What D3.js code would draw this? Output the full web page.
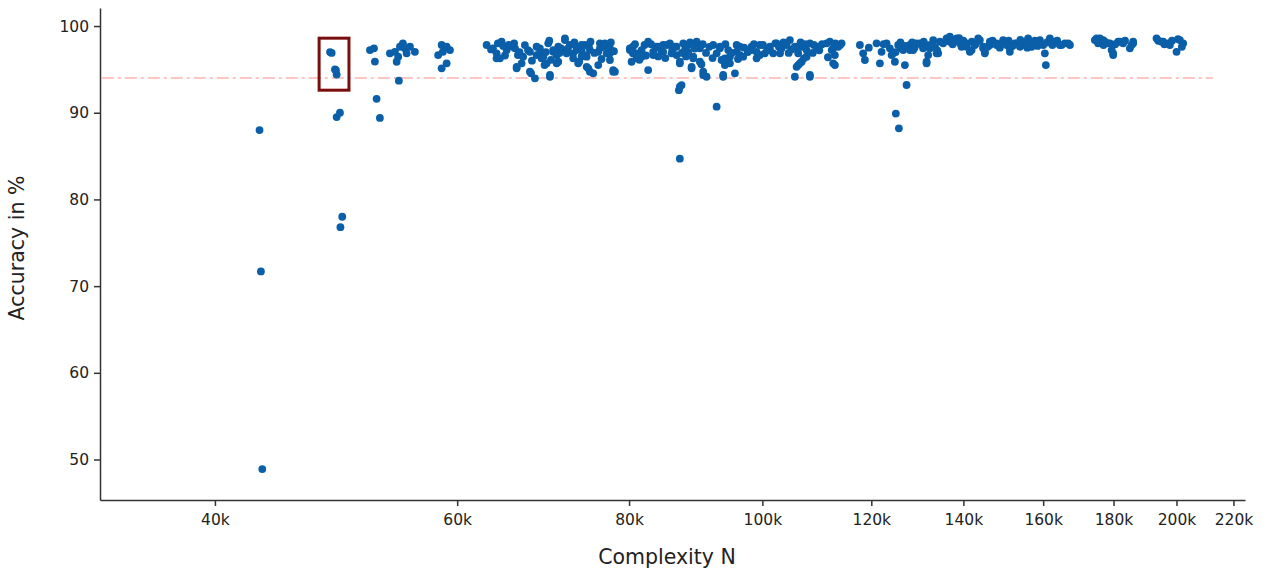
<!DOCTYPE html>
<html>
<head>
<meta charset="utf-8">
<script src="https://cdn.jsdelivr.net/npm/d3@7"></script>
<style>
  html, body { margin: 0; padding: 0; background: #ffffff; }
  svg { display: block; }
  text { font-family: "DejaVu Sans", Verdana, sans-serif; fill: #222; }
</style>
</head>
<body>
<svg id="chart" width="1268" height="573"></svg>
<script>
// Complexity N (in thousands) and accuracy (%) for each point
const complexityK = [
  43.1, 43.2, 43.3,
  48.63, 48.5, 48.98, 49.04, 48.9, 49.04, 49.31, 49.50, 49.35,
  51.85, 52.20, 52.28, 52.43, 52.72, 53.61, 54.06, 54.22, 54.36, 54.42, 54.52, 54.79, 54.97, 55.13, 55.44, 55.90,
  58.12, 58.46, 58.58, 58.95, 59.28, 58.95, 58.46,
  63.03, 63.70, 64.09, 64.23, 64.63, 64.45, 64.09, 65.18, 65.87, 65.4, 66.1, 66.42, 66.28, 66.28, 66.83, 67.0, 67.55, 67.77, 67.77, 67.9,
  68.34, 68.53, 68.53, 68.91, 68.91, 69.1, 69.30, 69.45, 69.88, 69.69, 70.08, 70.08, 70.46, 70.46, 70.87, 71.06, 70.87, 71.06, 71.4,
  71.86, 71.86, 72.06, 72.06, 72.46, 72.86, 72.86, 73.28, 73.28, 73.47, 73.6, 73.89, 73.89, 74.30, 74.30, 74.52, 74.52, 74.72, 74.93, 74.93,
  75.34, 75.98, 75.98, 76.19, 76.19, 76.61, 76.83, 77.05, 77.22, 77.48, 77.48, 77.91, 77.91, 78.13, 76.83, 77.48,
  63.5, 65.0, 66.0, 67.2, 68.0, 69.6, 70.2, 71.2, 72.2, 73.0, 73.9, 74.8, 75.5, 76.4, 77.6, 78.0, 75.0, 70.0, 66.6, 64.8,
  80.11, 80.11, 80.34, 80.52, 80.52, 81.02, 81.02, 81.70, 81.70, 82.1, 82.60, 82.60, 83.30, 83.30, 83.7, 84.0, 84.4, 84.70, 84.70, 85.19,
  85.90, 85.66, 86.3, 86.62, 86.62, 87.10, 87.10, 87.35, 86.96, 87.10, 87.10, 87.6, 87.84, 87.84, 88.32, 88.32, 88.83, 88.83, 89.07, 89.07,
  89.58, 89.58, 90.07, 90.07, 90.3, 90.57, 90.57, 91.08, 92.10, 92.63, 92.63, 93.14, 93.14, 93.40, 93.65, 93.65, 93.92, 93.92, 94.44,
  94.71, 94.71, 95.51, 95.78, 95.78, 96.31, 96.31, 96.84, 98.21, 98.21, 99.04, 99.04, 99.58, 99.58, 100.42, 100.1, 101.27, 101.27, 101.83,
  102.41, 102.2, 103.27, 103.0, 104.14, 104.71, 105.59, 105.59, 105.90, 106.18, 106.18, 106.18, 106.48, 106.8, 107.07, 107.2, 107.68, 107.68,
  108.28, 108.28, 108.28, 109.50, 109.0, 111.35, 111.96, 112.3, 112.58, 112.58, 112.91, 112.9, 113.53, 113.9, 114.18,
  80.8, 81.4, 82.3, 83.0, 84.0, 85.0, 86.0, 87.4, 88.0, 88.6, 89.3, 90.5, 91.0, 91.5, 92.0, 94.0, 95.0, 96.0, 97.0, 97.6, 98.6,
  100.8, 102.8, 103.6, 104.5, 105.0, 106.6, 107.4, 108.8, 110.0, 110.5, 111.6, 113.0,
  117.73, 118.38, 118.72, 121.06, 121.74, 122.08, 123.11, 123.79, 124.15, 124.47, 124.83, 125.03, 125.52, 125.67, 126.24, 126.58, 126.94,
  127.30, 128.01, 128.01, 128.71, 129.45, 130.16, 130.54, 130.88, 131.63, 131.63, 131.98, 132.37, 132.74, 133.10, 133.86, 134.21, 134.60,
  119.5, 122.5, 125.0, 126.0, 127.0, 128.5, 129.0, 131.0, 132.0, 133.5, 134.0,
  135.34, 136.11, 136.86, 136.86, 138.02, 138.42, 139.18, 139.57, 140.75, 140.75, 141.52, 141.94, 142.72, 143.51, 143.91, 144.72, 144.72,
  145.12, 145.12, 146.34, 146.34, 148.00, 148.00, 149.63, 149.63, 150.49, 151.32, 151.32, 152.59, 153.04, 153.88, 154.73, 155.16, 156.02,
  156.47, 156.93, 157.34, 159.12, 159.12, 160.0, 160.45, 160.72, 161.80, 161.80, 163.17, 164.53, 165.92, 166.84, 167.32,
  137.5, 139.0, 140.0, 142.0, 143.0, 145.8, 147.0, 148.8, 150.0, 151.0, 152.0, 154.0, 155.8, 157.8, 158.5, 161.0, 162.5, 163.8, 165.0,
  174.46, 174.97, 175.93, 176.90, 177.40, 178.40, 178.90, 179.42, 179.88, 179.88, 181.40, 181.91, 182.91, 184.99, 186.01, 186.01,
  175.4, 177.0, 180.5, 183.5, 185.5,
  193.43, 195.06, 195.59, 197.24, 197.79, 200.02, 201.14, 202.25, 200.5,
  194.0, 196.0, 198.5, 201.8
];
const accuracy = [
  88.0, 71.7, 48.9,
  96.9, 97.0, 94.9, 94.4, 95.0, 89.5, 90.0, 78.0, 76.8,
  97.23, 97.43, 95.9, 91.6, 89.4, 96.85, 97.03, 95.88, 96.46, 93.7, 97.61, 98.0, 97.43, 96.85, 97.61, 97.03,
  96.65, 97.81, 97.03, 97.61, 97.23, 95.70, 95.12,
  97.81, 97.43, 96.85, 98.0, 98.19, 96.27, 96.27, 97.23, 97.61, 97.81, 97.43, 96.65, 95.12, 95.3, 95.70, 96.46, 97.23, 97.03, 94.73, 94.54,
  93.97, 96.65, 97.61, 97.43, 96.85, 96.27, 96.46, 95.5, 98.0, 95.70, 94.35, 94.15, 97.03, 97.23, 96.65, 97.61, 95.70, 95.88, 97.43,
  98.38, 98.58, 97.03, 96.85, 97.81, 96.85, 96.27, 97.61, 97.23, 95.70, 95.9, 97.23, 97.81, 97.81, 96.65, 96.46, 95.3, 95.12, 97.23, 94.73,
  94.54, 97.03, 95.5, 98.0, 97.43, 97.61, 97.81, 96.85, 97.81, 96.08, 97.43, 94.92, 94.73, 94.73, 98.0, 96.85,
  97.3, 96.6, 98.0, 97.8, 96.0, 97.0, 96.1, 96.9, 97.4, 98.1, 96.5, 97.6, 96.9, 96.2, 98.1, 97.1, 98.2, 98.3, 97.0, 97.7,
  97.23, 97.43, 95.88, 97.61, 96.85, 96.85, 96.27, 96.46, 97.23, 97.81, 98.19, 94.92, 96.65, 97.03, 97.61, 97.61, 97.23, 97.03, 97.81, 97.81,
  96.85, 98.0, 97.61, 96.65, 97.61, 95.70, 95.88, 93.19, 92.6, 84.7, 93.0, 98.0, 97.81, 97.23, 97.81, 97.03, 95.3, 95.12, 96.46, 96.27,
  98.0, 98.19, 97.43, 95.88, 95.6, 94.73, 94.35, 94.15, 97.81, 96.85, 90.7, 97.61, 97.43, 96.08, 94.15, 94.35, 95.5, 96.27, 97.23,
  96.46, 95.70, 94.54, 97.03, 97.81, 97.61, 96.65, 96.46, 97.23, 97.61, 96.27, 97.03, 97.81, 96.65, 96.85, 97.81, 97.61, 97.23, 96.85,
  98.0, 98.0, 97.43, 96.85, 97.81, 98.38, 97.61, 94.15, 95.3, 96.85, 97.43, 95.5, 95.70, 95.88, 97.61, 96.27, 96.46, 97.23,
  94.15, 98.0, 94.35, 97.61, 97.81, 98.0, 98.19, 97.23, 97.43, 95.70, 95.5, 96.65, 97.61, 97.81, 98.0,
  97.9, 96.1, 96.6, 97.9, 96.5, 96.3, 97.3, 96.9, 96.5, 98.1, 97.4, 97.9, 96.9, 97.6, 96.3, 97.9, 96.9, 96.2, 97.5, 97.0, 97.9,
  97.2, 97.6, 98.1, 96.9, 97.3, 98.1, 97.9, 96.9, 97.2, 97.9, 96.4, 98.0,
  97.81, 96.85, 96.08, 98.0, 95.70, 97.03, 98.0, 97.43, 96.65, 96.85, 95.88, 89.9, 97.81, 88.2, 97.43, 97.23, 95.5,
  93.2, 97.81, 97.23, 97.23, 98.0, 98.0, 97.81, 97.43, 95.88, 95.70, 96.65, 97.43, 97.81, 98.38, 96.85, 96.85, 98.19,
  97.5, 97.9, 97.0, 98.1, 97.7, 98.1, 97.5, 98.2, 97.8, 97.6, 97.2,
  98.0, 98.58, 98.77, 98.19, 98.38, 98.58, 98.0, 97.61, 98.0, 97.61, 97.03, 97.23, 97.81, 98.58, 98.38, 97.61, 97.43,
  97.03, 96.85, 98.19, 97.81, 98.0, 97.81, 98.38, 98.19, 97.81, 97.43, 97.03, 98.0, 98.0, 97.61, 97.81, 98.19, 98.58,
  98.19, 97.61, 97.81, 98.38, 98.0, 97.81, 96.85, 95.5, 98.58, 98.38, 98.19, 97.81, 98.0, 98.0, 97.81,
  97.9, 98.6, 98.3, 98.2, 98.0, 97.6, 98.3, 97.5, 98.0, 98.3, 97.7, 98.4, 97.5, 98.3, 97.7, 98.1, 97.8, 98.3, 97.8,
  98.38, 98.58, 98.58, 98.38, 98.19, 98.0, 98.0, 97.23, 96.65, 96.85, 98.19, 98.19, 98.0, 97.43, 98.0, 98.19,
  98.0, 97.8, 97.9, 98.3, 97.8,
  98.58, 98.19, 98.19, 98.0, 97.81, 97.03, 98.38, 98.0, 98.5,
  98.3, 97.9, 98.3, 97.6
];
const xTicksK = [40, 60, 80, 100, 120, 140, 160, 180, 200, 220];
const yTicks = [50, 60, 70, 80, 90, 100];
const thresholdAcc = [94];
// highlighted region: [N min (k), N max (k), accuracy min, accuracy max]
const highlightBox = [47.62, 50.06, 92.6, 98.6];

const svg = d3.select("#chart");
const x = d3.scaleLog().domain([33.0, 224.3]).range([100, 1245]);
const y = d3.scaleLinear().domain([45.33, 102.08]).range([500, 8]);

const axisColor = "#333";

// threshold line
svg.selectAll("line.thr").data(thresholdAcc).enter().append("line")
  .attr("class", "thr")
  .attr("x1", x(33.1)).attr("x2", x(212.5))
  .attr("y1", d => y(d)).attr("y2", d => y(d))
  .attr("stroke", "#ffb3b0").attr("stroke-width", 1.5)
  .attr("stroke-dasharray", "12,4,3,4");

// points
const pts = complexityK.map((n, i) => ({ n, a: accuracy[i] }));
svg.append("g").selectAll("circle").data(pts).enter().append("circle")
  .attr("cx", d => x(d.n)).attr("cy", d => y(d.a))
  .attr("r", 3.9).attr("fill", "#0a5fa8");

// highlight box
svg.append("rect")
  .attr("x", x(highlightBox[0])).attr("y", y(highlightBox[3]))
  .attr("width", x(highlightBox[1]) - x(highlightBox[0]))
  .attr("height", y(highlightBox[2]) - y(highlightBox[3]))
  .attr("fill", "none").attr("stroke", "#7a0d0d").attr("stroke-width", 3);

// x axis
const gx = svg.append("g").attr("transform", "translate(0,500)")
  .call(d3.axisBottom(x).tickValues(xTicksK).tickFormat(d => d + "k").tickSize(6).tickSizeOuter(0).tickPadding(8));
// y axis
const gy = svg.append("g").attr("transform", "translate(100,0)")
  .call(d3.axisLeft(y).tickValues(yTicks).tickSize(6).tickSizeOuter(0).tickPadding(5));

[gx, gy].forEach(g => {
  g.select(".domain").attr("stroke", axisColor).attr("stroke-width", 1.5);
  g.selectAll(".tick line").attr("stroke", axisColor).attr("stroke-width", 1.5);
  g.selectAll(".tick text").attr("font-family", "DejaVu Sans, Verdana, sans-serif")
    .attr("font-size", 15.5).attr("fill", "#222");
});

// axis titles
svg.append("text").attr("x", 667).attr("y", 564).attr("text-anchor", "middle")
  .attr("font-size", 20.5).text("Complexity N");
svg.append("text").attr("transform", "translate(24,248) rotate(-90)").attr("text-anchor", "middle")
  .attr("font-size", 20.5).text("Accuracy in %");
</script>
</body>
</html>
